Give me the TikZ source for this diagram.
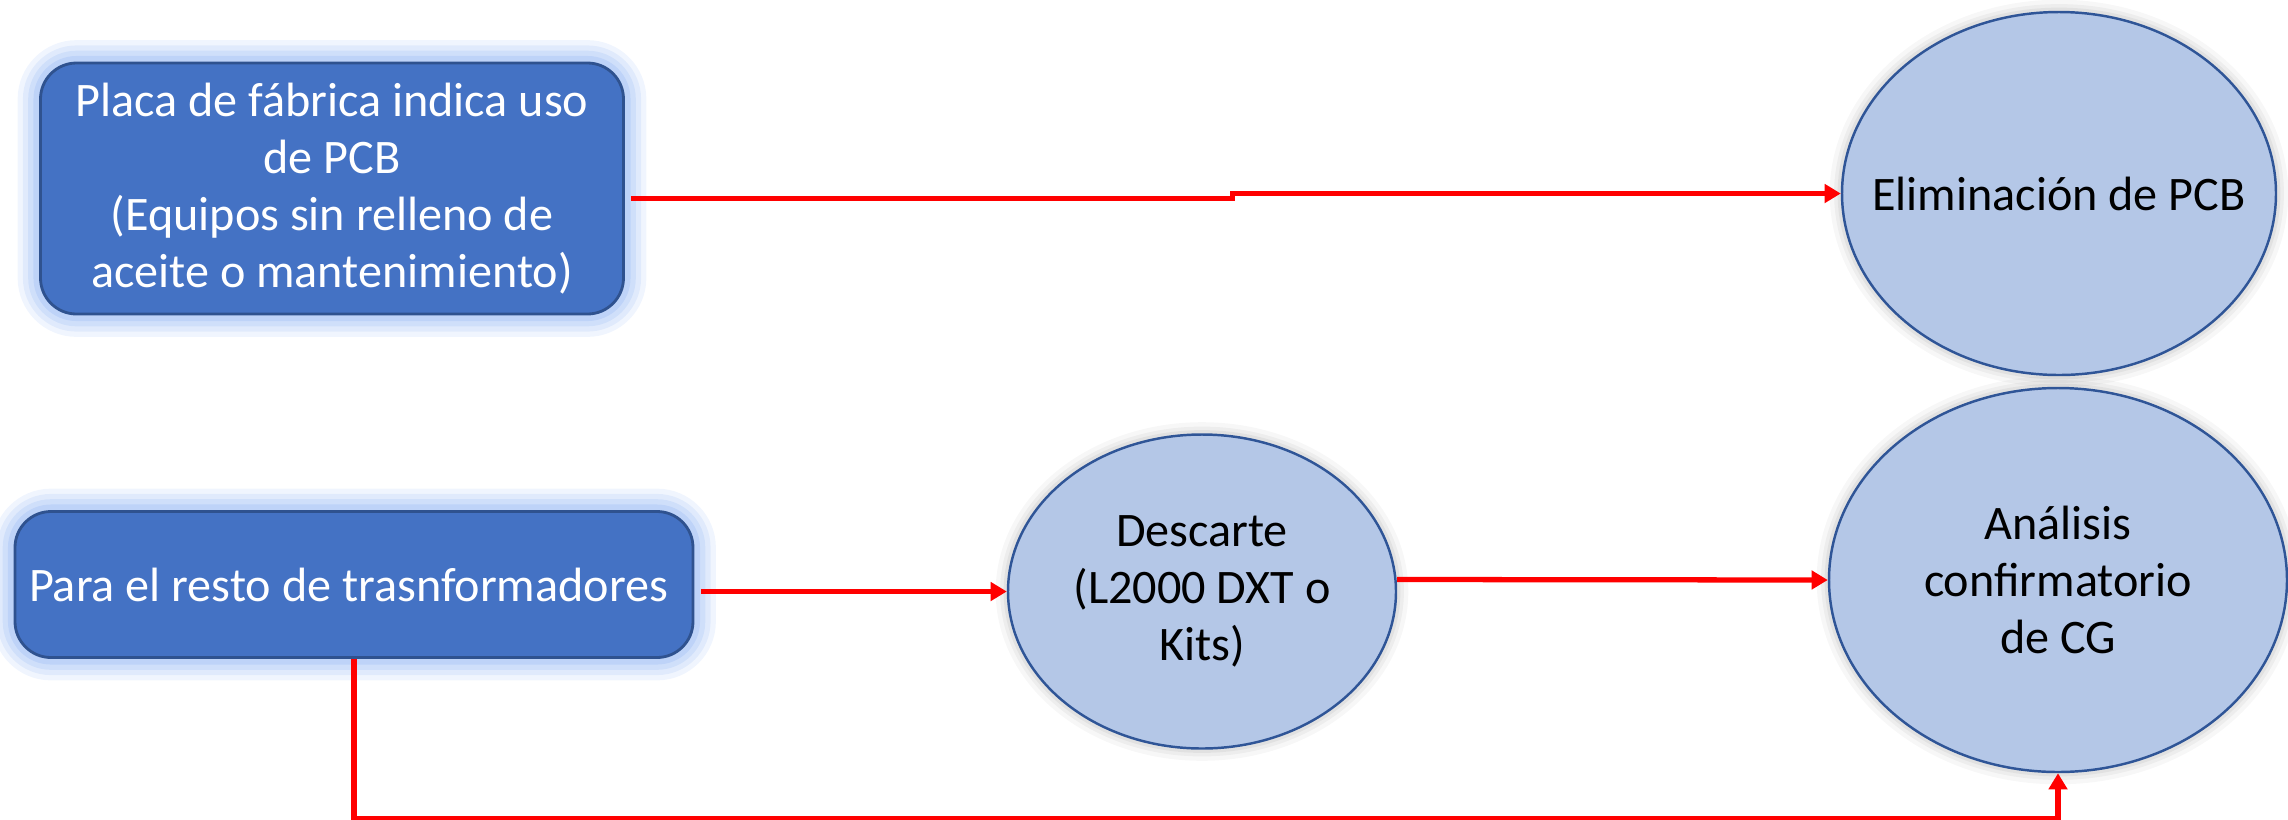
\documentclass[tikz,border=0pt]{standalone}
\usepackage{fontspec}
\setmainfont{Carlito}
\usepackage{tikz}
\usetikzlibrary{calc}
\usetikzlibrary{positioning}
\usetikzlibrary{shapes.geometric}
\usetikzlibrary{arrows.meta}
\definecolor{boxblue}{HTML}{4472C4}
\definecolor{boxedge}{HTML}{2F528F}
\definecolor{glowblue}{HTML}{9DBDF5}
\definecolor{ovalfill}{HTML}{B4C7E7}
\definecolor{ovaledge}{HTML}{2F5597}
\definecolor{flowred}{HTML}{FF0000}
\tikzstyle{glow} = [preaction={draw=glowblue, line width=13pt, opacity=0.15},
                    preaction={draw=glowblue, line width=10pt, opacity=0.2},
                    preaction={draw=glowblue, line width=7pt, opacity=0.25},
                    preaction={draw=glowblue, line width=4pt, opacity=0.35}]
\tikzstyle{softshade} = [preaction={draw=black, line width=7pt, opacity=0.03},
                         preaction={draw=black, line width=4.5pt, opacity=0.04},
                         preaction={draw=black, line width=2.5pt, opacity=0.05}]
\tikzstyle{procnode} = [glow, draw=boxedge, line width=0.8pt, fill=boxblue, rectangle, rounded corners=0.36cm, text=white, align=center, font=\fontsize{13.7}{16.2}\selectfont]
\tikzstyle{resnode} = [softshade, draw=ovaledge, line width=0.7pt, fill=ovalfill, ellipse, inner sep=0pt, align=center, font=\fontsize{13.7}{16.2}\selectfont]
\tikzstyle{flow} = [draw=flowred, line width=1.5pt, -{Triangle[length=4.6pt,width=5.2pt]}]

\begin{document}
\begin{tikzpicture}
  \useasboundingbox (0,0) rectangle (22.88,-8.19);

  \node[procnode, minimum width=5.83cm, minimum height=2.51cm] (plate) at (3.32,-1.885)
    {Placa de fábrica indica uso\\de PCB\\(Equipos sin relleno de\\aceite o mantenimiento)};
  \node[procnode, minimum width=6.78cm, minimum height=1.46cm] (rest) at (3.54,-5.845)
    {Para el resto de trasnformadores\ };

  \node[resnode, minimum width=4.34cm, minimum height=3.63cm, inner xsep=-1cm] (elim) at (20.59,-1.935)
    {Eliminación de PCB};
  \node[resnode, minimum width=3.88cm, minimum height=3.14cm] (descarte) at (12.02,-5.915)
    {Descarte\\(L2000 DXT o\\Kits)};
  \node[resnode, minimum width=4.58cm, minimum height=3.84cm] (analisis) at (20.58,-5.80)
    {Análisis\\confirmatorio\\de CG};

  \coordinate (kink) at ({$(plate.east)!0.5!(elim.west)$} |- elim.west);

  \draw[flow, shorten <=1.7pt] ([yshift=-1mm]plate.east) -| (kink) -- (elim.west);
  \draw[flow, shorten <=2pt] (rest.east |- descarte.west) -- (descarte.west);
  \draw[flow] ([yshift=1.2mm]descarte.east) -- (analisis.west);
  \draw[flow] (rest.south) -- ++(0,-1.6) -| (analisis.south);
\end{tikzpicture}
\end{document}
